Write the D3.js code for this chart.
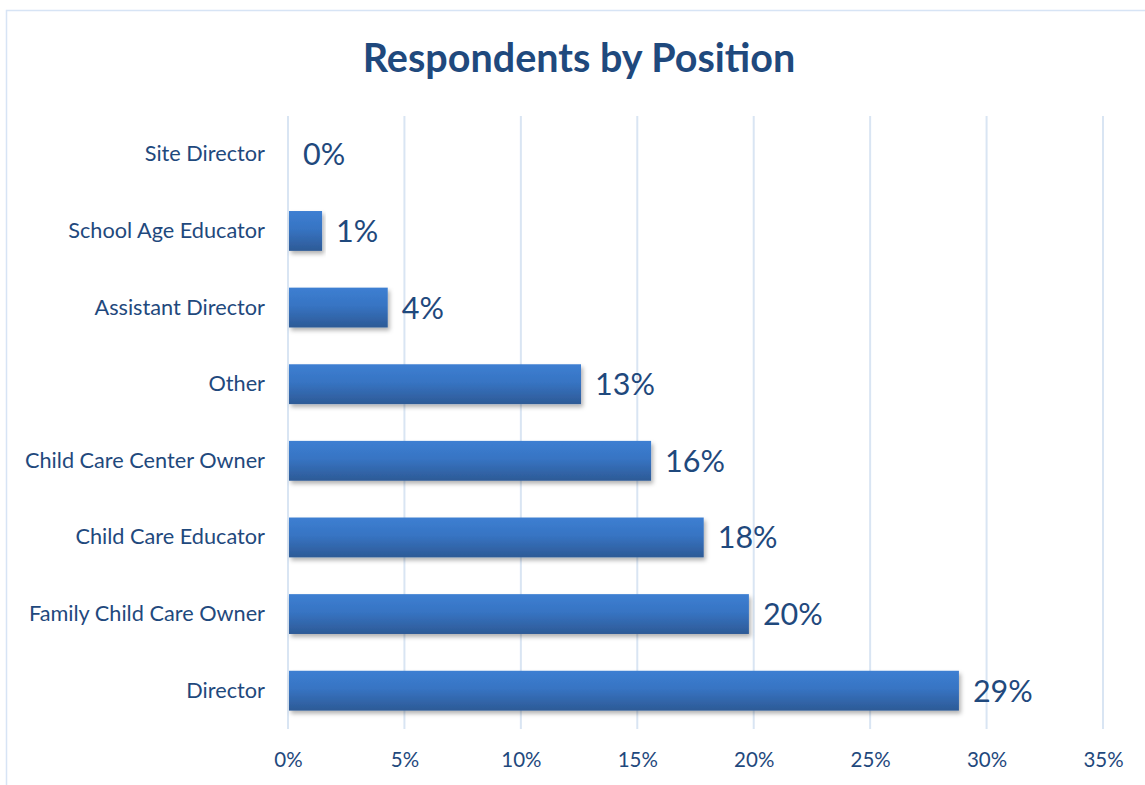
<!DOCTYPE html>
<html>
<head>
<meta charset="utf-8">
<script src="https://cdn.jsdelivr.net/npm/d3@7"></script>
<style>
  body { margin: 0; background: #fff; }
  text { font-family: Lato, "Open Sans", sans-serif; fill: #1f497d; }
</style>
</head>
<body>
<div id="chart"></div>
<script>
  // categories from bottom to top as in the picture
  var categories = ['Director', 'Family Child Care Owner', 'Child Care Educator',
    'Child Care Center Owner', 'Other', 'Assistant Director', 'School Age Educator', 'Site Director'];
  var values = [28.77, 19.75, 17.81, 15.55, 12.54, 4.24, 1.42, 0];
  var ticks = [0, 5, 10, 15, 20, 25, 30, 35];

  var width = 1145, height = 785;
  var plotLeft = 288, plotRight = 1103, plotTop = 116, plotBottom = 729;

  var svg = d3.select('#chart').append('svg')
      .attr('width', width)
      .attr('height', height);

  var defs = svg.append('defs');
  var grad = defs.append('linearGradient')
      .attr('id', 'barGrad')
      .attr('x1', 0).attr('y1', 0).attr('x2', 0).attr('y2', 1);
  grad.append('stop').attr('offset', '0%').attr('stop-color', '#3d7fd2');
  grad.append('stop').attr('offset', '45%').attr('stop-color', '#3774c3');
  grad.append('stop').attr('offset', '100%').attr('stop-color', '#2d5a96');

  var shadow = defs.append('filter').attr('id', 'shadow')
      .attr('x', '-5%').attr('y', '-20%').attr('width', '115%').attr('height', '160%');
  shadow.append('feDropShadow')
      .attr('dx', 2).attr('dy', 3).attr('stdDeviation', 2)
      .attr('flood-color', '#000').attr('flood-opacity', 0.3);

  // chart border (right and bottom edges run off the picture)
  svg.append('rect')
      .attr('x', 6.5).attr('y', 10.5)
      .attr('width', 1160).attr('height', 800)
      .attr('fill', 'none')
      .attr('stroke', '#d7e4f5')
      .attr('stroke-width', 1.5);

  var x = d3.scaleLinear().domain([0, 35]).range([plotLeft, plotRight]);
  var y = d3.scaleBand().domain(categories.slice().reverse())
      .range([plotTop, plotBottom]).paddingInner(0.48).paddingOuter(0.24);

  // gridlines
  svg.append('g')
      .selectAll('line')
      .data(ticks)
      .enter()
      .append('line')
        .attr('x1', d => x(d)).attr('x2', d => x(d))
        .attr('y1', plotTop).attr('y2', plotBottom)
        .attr('stroke', '#d9e5f3')
        .attr('stroke-width', 2);

  // x axis tick labels
  var xAxis = d3.axisBottom(x)
      .tickValues(ticks)
      .tickFormat(d => d + '%')
      .tickSize(0)
      .tickPadding(0);
  var gx = svg.append('g')
      .attr('transform', 'translate(0,' + (plotBottom + 23) + ')')
      .call(xAxis);
  gx.select('.domain').remove();
  gx.selectAll('text')
      .attr('dy', '0.71em')
      .style('font-size', '20.5px')
      .style('font-family', 'Lato, sans-serif')
      .style('fill', '#1f497d');

  // y axis category labels
  var yAxis = d3.axisLeft(y).tickSize(0).tickPadding(23);
  var gy = svg.append('g')
      .attr('transform', 'translate(' + plotLeft + ',0)')
      .call(yAxis);
  gy.select('.domain').remove();
  gy.selectAll('text')
      .style('font-size', '21.7px')
      .style('font-family', 'Lato, sans-serif')
      .style('fill', '#1f497d');

  // bars
  svg.append('g')
      .selectAll('rect')
      .data(categories)
      .enter()
      .append('rect')
        .attr('x', x(0) + 1)
        .attr('y', d => y(d))
        .attr('height', y.bandwidth())
        .attr('width', (d, i) => Math.max(0, x(values[i]) - x(0)))
        .attr('fill', 'url(#barGrad)')
        .attr('filter', 'url(#shadow)')
        .style('display', (d, i) => values[i] > 0 ? null : 'none');

  // value labels
  svg.append('g')
      .selectAll('text')
      .data(categories)
      .enter()
      .append('text')
        .attr('x', (d, i) => x(values[i]) + 15)
        .attr('y', d => y(d) + y.bandwidth() / 2)
        .attr('dy', '0.36em')
        .style('font-size', '30.5px')
        .text((d, i) => Math.round(values[i]) + '%');

  // title
  svg.append('text')
      .attr('x', 579)
      .attr('y', 72)
      .style('text-anchor', 'middle')
      .style('font-size', '39.5px')
      .style('font-weight', 'bold')
      .text('Respondents by Position');
</script>
</body>
</html>
